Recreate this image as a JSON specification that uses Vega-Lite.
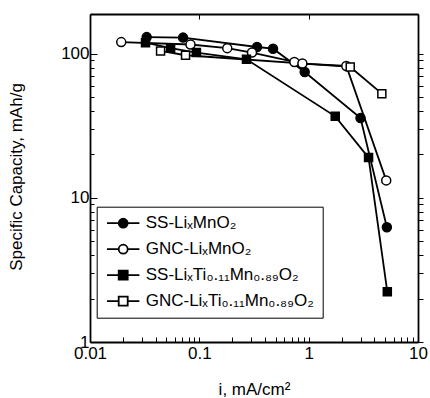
{
  "$schema": "https://vega.github.io/schema/vega-lite/v6.json",
  "width": 328,
  "height": 328,
  "autosize": "none",
  "padding": {"left": 90, "top": 14, "right": 12, "bottom": 56},
  "background": "white",
  "config": {
    "font": "Liberation Sans",
    "view": {"stroke": null},
    "axis": {"domainColor": "black", "domainWidth": 1.8, "tickColor": "black", "labelColor": "black", "titleColor": "black", "grid": false, "labelFlush": false, "labelFontSize": 17, "titleFontSize": 17, "titleFontWeight": "normal", "labelOverlap": false}
  },
  "data": {"values": [
    {"s": "SS-LiₓMnO₂", "i": 0.033, "c": 130},
    {"s": "SS-LiₓMnO₂", "i": 0.071, "c": 129},
    {"s": "SS-LiₓMnO₂", "i": 0.337, "c": 111},
    {"s": "SS-LiₓMnO₂", "i": 0.472, "c": 108},
    {"s": "SS-LiₓMnO₂", "i": 0.92, "c": 74.5},
    {"s": "SS-LiₓMnO₂", "i": 2.98, "c": 35.7},
    {"s": "SS-LiₓMnO₂", "i": 5.19, "c": 6.25},
    {"s": "GNC-LiₓMnO₂", "i": 0.0193, "c": 120},
    {"s": "GNC-LiₓMnO₂", "i": 0.083, "c": 115.5},
    {"s": "GNC-LiₓMnO₂", "i": 0.18, "c": 109},
    {"s": "GNC-LiₓMnO₂", "i": 0.303, "c": 101.6},
    {"s": "GNC-LiₓMnO₂", "i": 0.74, "c": 87.4},
    {"s": "GNC-LiₓMnO₂", "i": 0.876, "c": 85.2},
    {"s": "GNC-LiₓMnO₂", "i": 2.21, "c": 82},
    {"s": "GNC-LiₓMnO₂", "i": 5.12, "c": 13.2},
    {"s": "SS-LiₓTi₀.₁₁Mn₀.₈₉O₂", "i": 0.0322, "c": 119},
    {"s": "SS-LiₓTi₀.₁₁Mn₀.₈₉O₂", "i": 0.0546, "c": 109},
    {"s": "SS-LiₓTi₀.₁₁Mn₀.₈₉O₂", "i": 0.094, "c": 101.6},
    {"s": "SS-LiₓTi₀.₁₁Mn₀.₈₉O₂", "i": 0.27, "c": 91.3},
    {"s": "SS-LiₓTi₀.₁₁Mn₀.₈₉O₂", "i": 1.75, "c": 36.7},
    {"s": "SS-LiₓTi₀.₁₁Mn₀.₈₉O₂", "i": 3.53, "c": 19.0},
    {"s": "SS-LiₓTi₀.₁₁Mn₀.₈₉O₂", "i": 5.24, "c": 2.23},
    {"s": "GNC-LiₓTi₀.₁₁Mn₀.₈₉O₂", "i": 0.0442, "c": 104.3},
    {"s": "GNC-LiₓTi₀.₁₁Mn₀.₈₉O₂", "i": 0.0748, "c": 97.3},
    {"s": "GNC-LiₓTi₀.₁₁Mn₀.₈₉O₂", "i": 2.40, "c": 80.7},
    {"s": "GNC-LiₓTi₀.₁₁Mn₀.₈₉O₂", "i": 4.67, "c": 52.7}
  ]},
  "resolve": {"axis": {"x": "independent", "y": "independent"}},
  "layer": [
    {
      "mark": {"type": "line", "color": "black", "strokeWidth": 1.8},
      "encoding": {
        "x": {"field": "i", "type": "quantitative", "scale": {"type": "log", "domain": [0.01, 10], "nice": false},
          "axis": {"orient": "bottom", "values": [0.01,0.02,0.03,0.04,0.05,0.06,0.07,0.08,0.09,0.1,0.2,0.3,0.4,0.5,0.6,0.7,0.8,0.9,1,2,3,4,5,6,7,8,9,10],
            "labelExpr": "indexof([0.01,0.1,1,10], datum.value) >= 0 ? format(datum.value, '~g') : ''",
            "tickSize": -5,
            "labelPadding": 8,
            "title": "i, mA/cm²", "titleBaseline": "alphabetic", "titleY": 52}},
        "y": {"field": "c", "type": "quantitative", "scale": {"type": "log", "domain": [1, 188], "nice": false},
          "axis": {"orient": "left", "values": [1,2,3,4,5,6,7,8,9,10,20,30,40,50,60,70,80,90,100],
            "labelExpr": "indexof([1,10,100], datum.value) >= 0 ? format(datum.value, '~g') : ''",
            "tickSize": {"condition": {"test": "indexof([1,10,100], datum.value) >= 0", "value": -7}, "value": -4},
            "labelPadding": 8,
            "title": "Specific Capacity, mAh/g", "titleBaseline": "alphabetic", "titleX": -69, "titleY": 162.5}},
        "detail": {"field": "s"}
      }
    },
    {
      "transform": [{"filter": "indexof(datum.s, 'Ti') < 0"}],
      "mark": {"type": "point", "shape": "circle", "filled": true, "stroke": "black", "strokeWidth": 1.5, "opacity": 1, "size": 81},
      "encoding": {
        "x": {"field": "i", "type": "quantitative", "scale": {"type": "log", "domain": [0.01, 10], "nice": false},
          "axis": {"orient": "top", "values": [0.01,0.1,1,10], "labels": false, "title": null, "tickSize": -5}},
        "y": {"field": "c", "type": "quantitative", "scale": {"type": "log", "domain": [1, 188], "nice": false},
          "axis": {"orient": "right", "labels": false, "title": null}},
        "fill": {"field": "s", "type": "nominal",
          "scale": {"domain": ["SS-LiₓMnO₂", "GNC-LiₓMnO₂", "SS-LiₓTi₀.₁₁Mn₀.₈₉O₂", "GNC-LiₓTi₀.₁₁Mn₀.₈₉O₂"], "range": ["black", "white", "black", "white"]}}
      }
    },
    {
      "transform": [{"filter": "indexof(datum.s, 'Ti') >= 0"}],
      "mark": {"type": "point", "shape": "square", "filled": true, "stroke": "black", "strokeWidth": 1.5, "opacity": 1, "size": 64},
      "encoding": {
        "x": {"field": "i", "type": "quantitative", "scale": {"type": "log", "domain": [0.01, 10], "nice": false}, "axis": null},
        "y": {"field": "c", "type": "quantitative", "scale": {"type": "log", "domain": [1, 188], "nice": false}, "axis": null},
        "fill": {"field": "s", "type": "nominal"}
      }
    },
    {
      "transform": [{"filter": "false"}],
      "mark": {"type": "point", "filled": true, "strokeWidth": 1.8, "opacity": 1},
      "encoding": {
        "x": {"field": "i", "type": "quantitative", "scale": {"type": "log", "domain": [0.01, 10], "nice": false}, "axis": null},
        "y": {"field": "c", "type": "quantitative", "scale": {"type": "log", "domain": [1, 188], "nice": false}, "axis": null},
        "fill": {"field": "s", "type": "nominal"},
        "stroke": {"field": "s", "type": "nominal",
          "scale": {"domain": ["SS-LiₓMnO₂", "GNC-LiₓMnO₂", "SS-LiₓTi₀.₁₁Mn₀.₈₉O₂", "GNC-LiₓTi₀.₁₁Mn₀.₈₉O₂"], "range": ["black", "black", "black", "black"]}},
        "shape": {"field": "s", "type": "nominal",
          "scale": {"domain": ["SS-LiₓMnO₂", "GNC-LiₓMnO₂", "SS-LiₓTi₀.₁₁Mn₀.₈₉O₂", "GNC-LiₓTi₀.₁₁Mn₀.₈₉O₂"],
            "range": ["M-3.6,0H-1M1,0H3.6M-1,0A1,1 0 1,1 1,0A1,1 0 1,1 -1,0Z", "M-3.6,0H-1M1,0H3.6M-1,0A1,1 0 1,1 1,0A1,1 0 1,1 -1,0Z", "M-3.6,0H-1M1,0H3.6M-1,-1H1V1H-1Z", "M-3.6,0H-1M1,0H3.6M-1,-1H1V1H-1Z"]},
          "legend": {"orient": "none", "legendX": 6.7, "legendY": 192.7, "title": null, "strokeColor": "black", "fillColor": "white", "padding": 8, "labelFontSize": 17, "labelColor": "black", "labelLimit": 0, "symbolSize": 81, "symbolStrokeWidth": 1.8, "symbolStrokeColor": "black", "labelOffset": 14, "rowPadding": 8, "symbolOffset": 10,
            "encode": {"legend": {"update": {"strokeWidth": {"value": 2}}}}}}
      }
    }
  ]
}
